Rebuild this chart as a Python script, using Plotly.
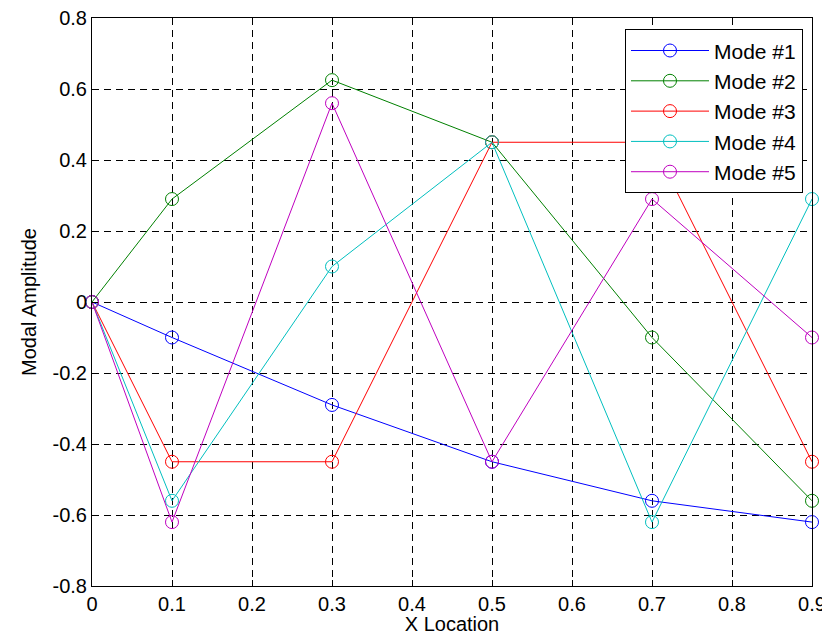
import plotly.graph_objects as go

x_loc = [0, 0.1, 0.3, 0.5, 0.7, 0.9]
mode1 = [0, -0.10, -0.29, -0.45, -0.56, -0.62]
mode2 = [0, 0.29, 0.625, 0.45, -0.10, -0.56]
mode3 = [0, -0.45, -0.45, 0.45, 0.45, -0.45]
mode4 = [0, -0.56, 0.10, 0.45, -0.62, 0.29]
mode5 = [0, -0.62, 0.56, -0.45, 0.29, -0.10]
names = ["Mode #1", "Mode #2", "Mode #3", "Mode #4", "Mode #5"]
series = [mode1, mode2, mode3, mode4, mode5]
colors = ["#0000ff", "#008000", "#ff0000", "#00bfbf", "#bf00bf"]

fig = go.Figure()
for nm, ys, c in zip(names, series, colors):
    fig.add_trace(go.Scatter(
        x=x_loc, y=ys, name=nm, mode="lines+markers",
        line=dict(color=c, width=1),
        marker=dict(symbol="circle-open", size=13, color=c, line=dict(width=1, color=c)),
        cliponaxis=False,
    ))

axis_common = dict(
    showline=True, linecolor="black", linewidth=1, mirror=True,
    showgrid=True, gridcolor="black", gridwidth=1, griddash="7px,5px",
    zeroline=False, ticks="inside", ticklen=6, tickcolor="black",
    tickfont=dict(size=20, color="black"), automargin=False,
    ticklabeloverflow="allow",
)
fig.update_xaxes(range=[0, 0.9], tickvals=[0, 0.1, 0.2, 0.3, 0.4, 0.5, 0.6, 0.7, 0.8, 0.9],
                 ticktext=["0", "0.1", "0.2", "0.3", "0.4", "0.5", "0.6", "0.7", "0.8", "0.9"],
                 title=dict(text="X Location", font=dict(size=20, color="black"), standoff=5),
                 **axis_common)
fig.update_yaxes(range=[-0.8, 0.8], tickvals=[-0.8, -0.6, -0.4, -0.2, 0, 0.2, 0.4, 0.6, 0.8],
                 ticktext=["-0.8", "-0.6", "-0.4", "-0.2", "0", "0.2", "0.4", "0.6", "0.8"],
                 title=dict(text="Modal Amplitude", font=dict(size=20, color="black"), standoff=10),
                 **axis_common)

# page body has an 8px default margin, so the figure is offset by it
fig.update_layout(
    width=822, height=627,
    margin=dict(l=84, r=18, t=10, b=49),
    plot_bgcolor="white", paper_bgcolor="white",
    font=dict(family="Liberation Sans, Arial, sans-serif", size=20, color="black"),
    legend=dict(x=0.9875, y=0.98, xanchor="right", yanchor="top",
                bgcolor="white", bordercolor="black", borderwidth=1,
                font=dict(size=21), tracegroupgap=0, itemwidth=78),
    showlegend=True,
)

fig.write_html("out.html")
